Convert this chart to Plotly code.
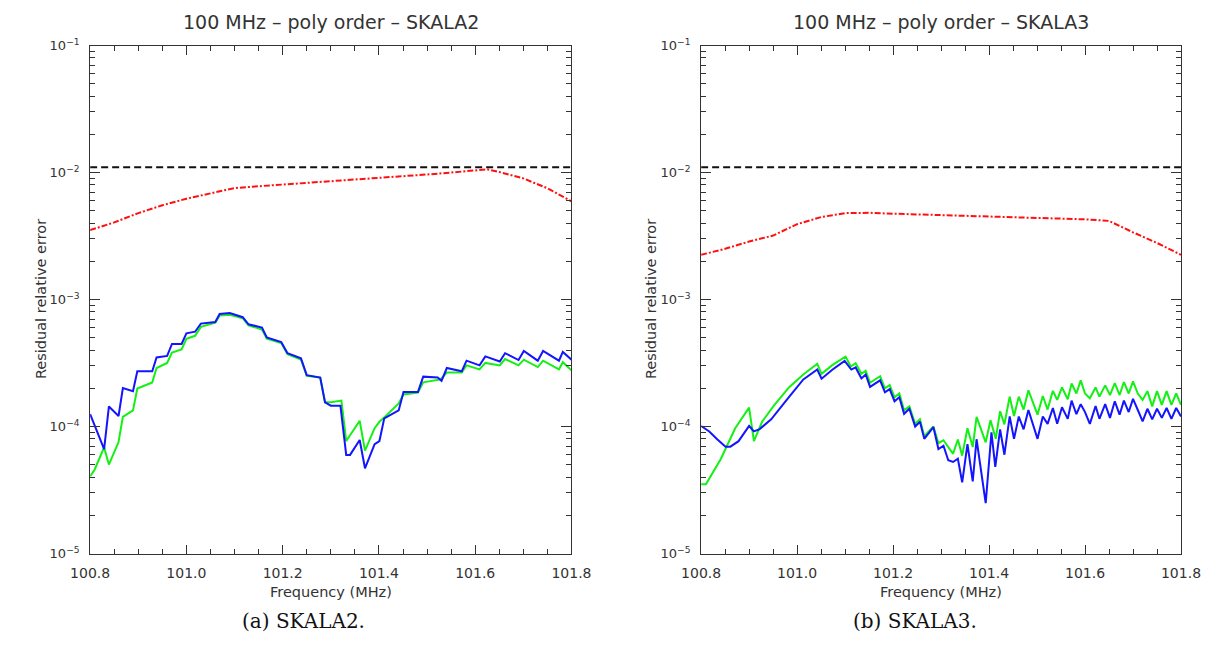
import plotly.graph_objects as go

# ---------------- data ----------------
# Panel (a) SKALA2
S2_BLUE_F = [100.800, 100.829, 100.839, 100.859, 100.868, 100.889, 100.898, 100.929, 100.938, 100.960,
             100.970, 100.990, 101.000, 101.018, 101.030, 101.060, 101.069, 101.090, 101.117, 101.129,
             101.157, 101.167, 101.197, 101.210, 101.238, 101.250, 101.278, 101.288, 101.300, 101.320,
             101.332, 101.340, 101.360, 101.371, 101.391, 101.401, 101.411, 101.441, 101.451, 101.481,
             101.492, 101.522, 101.530, 101.541, 101.572, 101.582, 101.609, 101.621, 101.651, 101.662,
             101.690, 101.701, 101.730, 101.741, 101.774, 101.782, 101.800]
S2_BLUE_E = [1.25e-4, 6.65e-5, 1.44e-4, 1.21e-4, 2.01e-4, 1.90e-4, 2.72e-4, 2.72e-4, 3.50e-4, 3.60e-4,
             4.47e-4, 4.47e-4, 5.42e-4, 5.58e-4, 6.46e-4, 6.65e-4, 7.69e-4, 7.83e-4, 7.26e-4, 6.38e-4,
             6.02e-4, 5.03e-4, 4.63e-4, 3.78e-4, 3.44e-4, 2.54e-4, 2.43e-4, 1.55e-4, 1.46e-4, 1.46e-4,
             5.98e-5, 5.98e-5, 7.83e-5, 4.69e-5, 7.26e-5, 7.69e-5, 1.16e-4, 1.34e-4, 1.87e-4, 1.87e-4,
             2.47e-4, 2.43e-4, 2.29e-4, 2.89e-4, 2.72e-4, 3.30e-4, 3.03e-4, 3.57e-4, 3.25e-4, 3.78e-4,
             3.34e-4, 3.94e-4, 3.30e-4, 3.94e-4, 3.30e-4, 3.87e-4, 3.36e-4]

S2_GREEN_F = [100.800, 100.809, 100.829, 100.839, 100.859, 100.868, 100.889, 100.898, 100.929, 100.938,
              100.960, 100.970, 100.990, 101.000, 101.018, 101.030, 101.060, 101.069, 101.090, 101.117,
              101.129, 101.157, 101.167, 101.197, 101.210, 101.238, 101.250, 101.278, 101.288, 101.300,
              101.322, 101.332, 101.360, 101.371, 101.391, 101.401, 101.411, 101.441, 101.451, 101.481,
              101.492, 101.528, 101.541, 101.572, 101.582, 101.609, 101.621, 101.651, 101.662, 101.690,
              101.701, 101.730, 101.741, 101.774, 101.782, 101.800]
S2_GREEN_E = [4.06e-5, 4.55e-5, 6.85e-5, 5.02e-5, 7.55e-5, 1.19e-4, 1.34e-4, 1.99e-4, 2.22e-4, 2.89e-4,
              3.17e-4, 3.82e-4, 4.05e-4, 4.91e-4, 5.18e-4, 6.09e-4, 6.58e-4, 7.47e-4, 7.60e-4, 7.13e-4,
              6.27e-4, 5.81e-4, 4.91e-4, 4.55e-4, 3.71e-4, 3.37e-4, 2.51e-4, 2.43e-4, 1.55e-4, 1.55e-4,
              1.60e-4, 7.69e-5, 1.11e-4, 6.46e-5, 9.71e-5, 1.09e-4, 1.18e-4, 1.52e-4, 1.79e-4, 1.85e-4,
              2.23e-4, 2.35e-4, 2.66e-4, 2.66e-4, 3.03e-4, 2.82e-4, 3.17e-4, 3.03e-4, 3.40e-4, 3.03e-4,
              3.36e-4, 2.94e-4, 3.30e-4, 2.82e-4, 3.21e-4, 2.77e-4]

S2_RED_F = [100.80, 100.85, 100.90, 100.95, 101.00, 101.05, 101.10, 101.15, 101.20, 101.25, 101.30,
            101.35, 101.40, 101.45, 101.50, 101.55, 101.60, 101.625, 101.65, 101.70, 101.75, 101.80]
S2_RED_E = [3.52e-3, 4.05e-3, 4.79e-3, 5.52e-3, 6.22e-3, 6.89e-3, 7.55e-3, 7.80e-3, 8.03e-3, 8.27e-3,
            8.48e-3, 8.73e-3, 9.04e-3, 9.26e-3, 9.65e-3, 1.00e-2, 1.04e-2, 1.06e-2, 1.01e-2, 8.99e-3,
            7.52e-3, 5.93e-3]

# Panel (b) SKALA3
S3_BLUE_F = [100.800, 100.817, 100.834, 100.851, 100.861, 100.878, 100.900, 100.910, 100.922, 100.946,
             100.980, 101.013, 101.042, 101.051, 101.074, 101.099, 101.113, 101.122, 101.134, 101.143,
             101.152, 101.173, 101.183, 101.193, 101.203, 101.213, 101.223, 101.234, 101.246, 101.256,
             101.265, 101.284, 101.2945, 101.305, 101.315, 101.325, 101.335, 101.344, 101.355, 101.366,
             101.374, 101.393, 101.405, 101.413, 101.423, 101.432, 101.443, 101.452, 101.462, 101.472,
             101.482, 101.501, 101.512, 101.522, 101.533, 101.542, 101.552, 101.564, 101.572, 101.582,
             101.591, 101.600, 101.610, 101.622, 101.630, 101.642, 101.652, 101.662, 101.672, 101.681,
             101.691, 101.700, 101.710, 101.720, 101.730, 101.740, 101.750, 101.760, 101.770, 101.780,
             101.790, 101.800]
S3_BLUE_E = [1.01e-4, 9.15e-5, 7.90e-5, 6.94e-5, 6.94e-5, 7.67e-5, 1.01e-4, 9.15e-5, 9.54e-5, 1.14e-4,
             1.65e-4, 2.35e-4, 2.81e-4, 2.38e-4, 2.81e-4, 3.29e-4, 2.81e-4, 2.92e-4, 2.39e-4, 2.57e-4,
             2.05e-4, 2.31e-4, 1.86e-4, 1.97e-4, 1.58e-4, 1.70e-4, 1.26e-4, 1.38e-4, 1.00e-4, 1.09e-4,
             8.00e-5, 9.90e-5, 6.65e-5, 7.06e-5, 5.42e-5, 5.26e-5, 5.58e-5, 3.63e-5, 7.26e-5, 3.70e-5,
             7.94e-5, 2.49e-5, 9.00e-5, 4.82e-5, 9.50e-5, 6.00e-5, 1.20e-4, 8.00e-5, 1.20e-4, 9.50e-5,
             1.35e-4, 8.00e-5, 1.20e-4, 1.05e-4, 1.40e-4, 1.05e-4, 1.42e-4, 1.15e-4, 1.60e-4, 1.25e-4,
             1.50e-4, 1.30e-4, 1.05e-4, 1.45e-4, 1.15e-4, 1.50e-4, 1.17e-4, 1.58e-4, 1.24e-4, 1.60e-4,
             1.30e-4, 1.65e-4, 1.35e-4, 1.10e-4, 1.38e-4, 1.14e-4, 1.38e-4, 1.17e-4, 1.40e-4, 1.15e-4,
             1.40e-4, 1.20e-4]

S3_GREEN_F = [100.800, 100.810, 100.841, 100.871, 100.900, 100.910, 100.927, 100.952, 100.983, 101.013,
              101.042, 101.051, 101.074, 101.101, 101.112, 101.122, 101.134, 101.143, 101.152, 101.173,
              101.183, 101.193, 101.203, 101.213, 101.223, 101.234, 101.246, 101.256, 101.265, 101.284,
              101.2945, 101.305, 101.325, 101.335, 101.344, 101.355, 101.366, 101.374, 101.393, 101.403,
              101.414, 101.423, 101.432, 101.443, 101.452, 101.462, 101.472, 101.482, 101.501, 101.512,
              101.522, 101.533, 101.542, 101.552, 101.564, 101.572, 101.582, 101.591, 101.600, 101.610,
              101.622, 101.630, 101.642, 101.652, 101.662, 101.672, 101.681, 101.691, 101.700, 101.710,
              101.720, 101.730, 101.740, 101.750, 101.760, 101.770, 101.780, 101.790, 101.800]
S3_GREEN_E = [3.51e-5, 3.51e-5, 5.55e-5, 9.70e-5, 1.41e-4, 7.67e-5, 1.09e-4, 1.47e-4, 2.03e-4, 2.57e-4,
              3.12e-4, 2.60e-4, 3.06e-4, 3.55e-4, 2.97e-4, 3.15e-4, 2.60e-4, 2.75e-4, 2.21e-4, 2.49e-4,
              2.00e-4, 2.12e-4, 1.70e-4, 1.82e-4, 1.34e-4, 1.44e-4, 1.05e-4, 1.14e-4, 8.38e-5, 1.00e-4,
              7.40e-5, 7.80e-5, 6.10e-5, 7.90e-5, 5.90e-5, 9.70e-5, 6.90e-5, 1.19e-4, 7.50e-5, 1.12e-4,
              8.00e-5, 1.32e-4, 1.04e-4, 1.72e-4, 1.21e-4, 1.72e-4, 1.36e-4, 1.93e-4, 1.24e-4, 1.74e-4,
              1.36e-4, 1.91e-4, 1.62e-4, 2.03e-4, 1.64e-4, 2.18e-4, 1.82e-4, 2.31e-4, 1.82e-4, 1.67e-4,
              2.03e-4, 1.72e-4, 2.11e-4, 1.77e-4, 2.20e-4, 1.77e-4, 2.24e-4, 1.82e-4, 2.27e-4, 1.82e-4,
              1.62e-4, 1.90e-4, 1.44e-4, 1.90e-4, 1.48e-4, 1.90e-4, 1.48e-4, 1.82e-4, 1.48e-4]

S3_RED_F = [100.80, 100.85, 100.90, 100.95, 101.00, 101.05, 101.10, 101.15, 101.20, 101.25, 101.30,
            101.35, 101.40, 101.45, 101.50, 101.55, 101.60, 101.65, 101.70, 101.75, 101.80]
S3_RED_E = [2.25e-3, 2.51e-3, 2.86e-3, 3.19e-3, 3.92e-3, 4.46e-3, 4.79e-3, 4.82e-3, 4.74e-3, 4.68e-3,
            4.60e-3, 4.54e-3, 4.49e-3, 4.44e-3, 4.39e-3, 4.36e-3, 4.28e-3, 4.16e-3, 3.38e-3, 2.79e-3,
            2.25e-3]

THRESH_F = [100.8, 101.8]
THRESH_E = [1.1e-2, 1.1e-2]

PANEL_TITLES = ["100 MHz – poly order – SKALA2", "100 MHz – poly order – SKALA3"]
CAPTIONS = ["(a) SKALA2.", "(b) SKALA3."]
X_TICKS = [100.8, 101.0, 101.2, 101.4, 101.6, 101.8]
X_TICK_TEXT = ["100.8", "101.0", "101.2", "101.4", "101.6", "101.8"]
X_MINOR = [100.85, 100.9, 100.95, 101.05, 101.1, 101.15, 101.25, 101.3, 101.35,
           101.45, 101.5, 101.55, 101.65, 101.7, 101.75]
Y_TICKS = [1e-5, 1e-4, 1e-3, 1e-2, 1e-1]
Y_TICK_TEXT = ["10<sup>−5</sup>", "10<sup>−4</sup>", "10<sup>−3</sup>", "10<sup>−2</sup>", "10<sup>−1</sup>"]
Y_MINOR = [m * 10.0 ** e for e in (-5, -4, -3, -2) for m in range(2, 10)]

# ---------------- figure ----------------
W, H = 1231, 657
GREEN = "#14f014"
BLUE = "#1414ff"
RED = "#ff1010"

fig = go.Figure()

panels = [
    (S2_GREEN_F, S2_GREEN_E, S2_BLUE_F, S2_BLUE_E, S2_RED_F, S2_RED_E, "x", "y"),
    (S3_GREEN_F, S3_GREEN_E, S3_BLUE_F, S3_BLUE_E, S3_RED_F, S3_RED_E, "x2", "y2"),
]
for gf, ge, bf, be, rf, re_, xa, ya in panels:
    fig.add_trace(go.Scatter(x=THRESH_F, y=THRESH_E, mode="lines", xaxis=xa, yaxis=ya,
                             line=dict(color="#111111", width=2, dash="7px,4px"), showlegend=False))
    fig.add_trace(go.Scatter(x=rf, y=re_, mode="lines", xaxis=xa, yaxis=ya,
                             line=dict(color=RED, width=2, dash="6px,2px,2px,2px"), showlegend=False))
    fig.add_trace(go.Scatter(x=gf, y=ge, mode="lines", xaxis=xa, yaxis=ya,
                             line=dict(color=GREEN, width=2), showlegend=False))
    fig.add_trace(go.Scatter(x=bf, y=be, mode="lines", xaxis=xa, yaxis=ya,
                             line=dict(color=BLUE, width=2), showlegend=False))

FONT = "DejaVu Sans"
frames = [(72.5, 570.0), (704.0, 1200.0)]
top_px, bot_px = 37.5, 559.0
ydom = [(H - bot_px) / H, (H - top_px) / H]

axis_common = dict(showline=True, linecolor="#333333", linewidth=1, mirror="ticks",
                   ticks="inside", tickcolor="#333333", showgrid=False, zeroline=False)

for i, (x0, x1) in enumerate(frames):
    xname = "xaxis" if i == 0 else "xaxis2"
    yname = "yaxis" if i == 0 else "yaxis2"
    fig.layout[xname] = dict(
        domain=[x0 / W, x1 / W], range=[100.8, 101.8], anchor="y" if i == 0 else "y2",
        tickmode="array", tickvals=X_TICKS, ticktext=X_TICK_TEXT, ticklen=9, tickwidth=1,
        tickfont=dict(family=FONT, size=14, color="#333333"), ticklabelstandoff=7,
        minor=dict(tickmode="array", tickvals=X_MINOR, ticks="inside", ticklen=5,
                   tickcolor="#333333", showgrid=False),
        **axis_common)
    fig.layout[yname] = dict(
        domain=ydom, type="log", range=[-5, -1], anchor="x" if i == 0 else "x2",
        tickmode="array", tickvals=Y_TICKS, ticktext=Y_TICK_TEXT, ticklen=10, tickwidth=1,
        tickfont=dict(family=FONT, size=13, color="#333333"), ticklabelstandoff=7,
        minor=dict(tickmode="array", tickvals=Y_MINOR, ticks="inside", ticklen=5,
                   tickcolor="#333333", showgrid=False),
        **axis_common)

annotations = []
for i, (x0, x1) in enumerate(frames):
    cx = (x0 + x1) / 2
    annotations.append(dict(text=PANEL_TITLES[i], x=cx / W, y=(H - 13) / H, xref="paper", yref="paper",
                            showarrow=False, font=dict(family=FONT, size=19, color="#333333"),
                            xanchor="center", yanchor="middle"))
    annotations.append(dict(text="Frequency (MHz)", x=cx / W, y=(H - 598) / H, xref="paper", yref="paper",
                            showarrow=False, font=dict(family=FONT, size=14.5, color="#333333"),
                            xanchor="center", yanchor="middle"))
    annotations.append(dict(text="Residual relative error", x=(x0 - 51) / W, y=(H - 298) / H,
                            xref="paper", yref="paper", showarrow=False, textangle=-90,
                            font=dict(family=FONT, size=14.5, color="#333333"),
                            xanchor="center", yanchor="middle"))
caption_x = [293, 925]
for i, cxp in enumerate(caption_x):
    annotations.append(dict(text=CAPTIONS[i], x=cxp / W, y=(H - 628) / H, xref="paper", yref="paper",
                            showarrow=False, font=dict(family="DejaVu Serif", size=20, color="#111111"),
                            xanchor="center", yanchor="middle"))

fig.update_layout(width=W, height=H, autosize=False, margin=dict(l=0, r=0, t=0, b=0),
                  paper_bgcolor="white", plot_bgcolor="white", showlegend=False,
                  annotations=annotations)

fig.write_html("out.html")
